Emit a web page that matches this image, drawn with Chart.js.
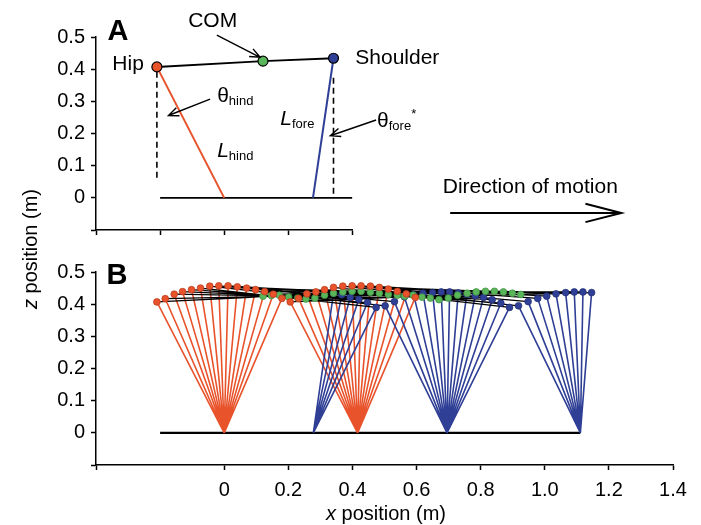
<!DOCTYPE html>
<html>
<head>
<meta charset="utf-8">
<script src="https://cdn.jsdelivr.net/npm/chart.js@4.4.0/dist/chart.umd.min.js"></script>
<style>
html, body { margin: 0; padding: 0; background: #fff; }
#wrap { position: relative; width: 701px; height: 525px; }
#wrap canvas { position: absolute; left: 0; top: 0; }
</style>
</head>
<body>
<div id="wrap">
  <canvas id="panelA" width="701" height="525"></canvas>
  <canvas id="panelB" width="701" height="525"></canvas>
</div>
<script>
const FONT = '"Liberation Sans", Arial, Helvetica, sans-serif';
const RED = '#e8532b', GREEN = '#5ab65b', BLUE = '#2f3f95';

// ---- panel B: 30 frames, hip / COM / shoulder positions (m) ----
const hipX = [-0.210, -0.184, -0.156, -0.130, -0.102, -0.074, -0.045, -0.017, 0.012, 0.041, 0.070, 0.098, 0.126, 0.153, 0.180,
  0.206, 0.232, 0.258, 0.286, 0.313, 0.341, 0.370, 0.399, 0.427, 0.456, 0.484, 0.512, 0.540, 0.568, 0.596];
const hipY = [0.407, 0.417, 0.431, 0.439, 0.445, 0.450, 0.456, 0.457, 0.457, 0.454, 0.450, 0.445, 0.439, 0.431, 0.418,
  0.407, 0.418, 0.432, 0.438, 0.445, 0.452, 0.456, 0.457, 0.457, 0.456, 0.452, 0.447, 0.440, 0.432, 0.421];
const comX = [0.121, 0.147, 0.172, 0.201, 0.229, 0.255, 0.283, 0.313, 0.341, 0.370, 0.399, 0.427, 0.456, 0.484, 0.512,
  0.540, 0.563, 0.589, 0.617, 0.643, 0.670, 0.699, 0.728, 0.758, 0.786, 0.815, 0.843, 0.871, 0.899, 0.925];
const comY = [0.425, 0.427, 0.428, 0.422, 0.419, 0.416, 0.419, 0.428, 0.434, 0.438, 0.440, 0.440, 0.437, 0.434, 0.430,
  0.428, 0.425, 0.428, 0.422, 0.419, 0.414, 0.419, 0.428, 0.434, 0.438, 0.440, 0.440, 0.438, 0.434, 0.430];
const shX = [0.341, 0.367, 0.393, 0.420, 0.447, 0.474, 0.502, 0.531, 0.562, 0.591, 0.620, 0.650, 0.677, 0.703, 0.730,
  0.757, 0.783, 0.809, 0.836, 0.863, 0.890, 0.918, 0.948, 0.978, 1.006, 1.035, 1.065, 1.092, 1.119, 1.146];
const shY = [0.434, 0.429, 0.421, 0.415, 0.405, 0.390, 0.395, 0.408, 0.423, 0.429, 0.434, 0.436, 0.438, 0.438, 0.435,
  0.431, 0.426, 0.421, 0.414, 0.403, 0.390, 0.395, 0.408, 0.418, 0.425, 0.432, 0.436, 0.438, 0.438, 0.436];

// feet (m) and number of frames spent on each foot
const hindFeet = [0, 0.416];
const hindFrames = [15, 15];
const foreFeet = [0.278, 0.695, 1.111];
const foreFrames = [6, 15, 9];
const groundB = [-0.2, 1.111];

// ---- panel A: one frame (hip, COM, shoulder) ----
const aBodyX = [-0.210, 0.121, 0.341];
const aBodyY = [0.407, 0.425, 0.434];
const aFeet = [0, 0.277];
const groundA = [-0.2, 0.4];
const aHipDash = [0.392, 0.051];
const aShoulderDash = [0.373, 0.003];

// ---- ticks ----
const xTicksA = [-0.4, -0.2, 0, 0.2, 0.4];
const xTicksB = [-0.4, 0, 0.2, 0.4, 0.6, 0.8, 1.0, 1.2, 1.4];
const xLabelsB = ['', '0', '0.2', '0.4', '0.6', '0.8', '1.0', '1.2', '1.4'];
const yTicks = [-0.1, 0, 0.1, 0.2, 0.3, 0.4, 0.5];
const yLabels = ['', '0', '0.1', '0.2', '0.3', '0.4', '0.5'];

// legs: top point -> foot, broken with a null between legs
function legs(topX, topY, feet, frames) {
  const out = [];
  let f = 0;
  feet.forEach((foot, k) => {
    for (let n = 0; n < frames[k]; n++, f++) {
      out.push({x: topX[f], y: topY[f]}, {x: foot, y: 0}, {x: foot, y: null});
    }
  });
  return out;
}

function bodies() {
  const out = [];
  hipX.forEach((hx, i) => {
    out.push({x: hx, y: hipY[i]}, {x: shX[i], y: shY[i]}, {x: shX[i], y: null});
  });
  return out;
}

const pts = (xs, ys) => xs.map((x, i) => ({x, y: ys[i]}));

function scaleOpts(min, max, ticks, labels, size, pad) {
  return {
    type: 'linear', min, max,
    afterBuildTicks: s => { s.ticks = ticks.map(v => ({value: v})); },
    afterFit: s => { if (s.isHorizontal()) s.height = size; else s.width = size; },
    grid: {drawOnChartArea: false, drawTicks: true, tickLength: 5, tickWidth: 1.5, color: '#000', tickColor: '#000'},
    border: {display: true, color: '#000', width: 1.5},
    ticks: {
      display: !!labels, color: '#000', padding: pad, autoSkip: false, maxRotation: 0,
      font: {family: FONT, size: 20},
      callback: (v, i) => labels ? labels[i] : ''
    }
  };
}

function rich(ctx, x, y, parts, size, align) {
  const fontFor = st => (st === 'i' ? 'italic ' : st === 'b' ? 'bold ' : '') +
    (st === 'sub' || st === 'sup' ? Math.round(size * 0.64) : size) + 'px ' + FONT;
  let w = 0;
  parts.forEach(([t, st]) => { ctx.font = fontFor(st); w += ctx.measureText(t).width; });
  let cx = align === 'center' ? x - w / 2 : x;
  ctx.textBaseline = 'middle';
  ctx.textAlign = 'left';
  ctx.fillStyle = '#000';
  parts.forEach(([t, st]) => {
    ctx.font = fontFor(st);
    const dy = st === 'sub' ? size * 0.28 : st === 'sup' ? -size * 0.3 : 0;
    ctx.fillText(t, cx, y + dy);
    cx += ctx.measureText(t).width;
  });
}

function arrow(ctx, x1, y1, x2, y2, len, spread, width) {
  const a = Math.atan2(y2 - y1, x2 - x1);
  ctx.beginPath();
  ctx.moveTo(x1, y1);
  ctx.lineTo(x2, y2);
  ctx.moveTo(x2 - len * Math.cos(a - spread), y2 - len * Math.sin(a - spread));
  ctx.lineTo(x2, y2);
  ctx.lineTo(x2 - len * Math.cos(a + spread), y2 - len * Math.sin(a + spread));
  ctx.lineWidth = width;
  ctx.strokeStyle = '#000';
  ctx.stroke();
}

// labels and arrows of panel A, placed in data units
const notesA = [
  {x: -0.036, y: 0.550, parts: [['COM', '']], align: 'center'},
  {x: -0.300, y: 0.416, parts: [['Hip', '']], align: 'center'},
  {x: 0.409, y: 0.435, parts: [['Shoulder', '']]},
  {x: -0.022, y: 0.317, parts: [['θ', ''], ['hind', 'sub']]},
  {x: -0.022, y: 0.146, parts: [['L', 'i'], ['hind', 'sub']]},
  {x: 0.175, y: 0.245, parts: [['L', 'i'], ['fore', 'sub']]},
  {x: 0.477, y: 0.239, parts: [['θ', ''], ['fore', 'sub'], ['*', 'sup']]},
  {x: 0.955, y: 0.034, parts: [['Direction of motion', '']], align: 'center'}
];
const arrowsA = [
  {from: [-0.023, 0.506], to: [0.112, 0.437], len: 11, spread: 0.4, w: 1.4},
  {from: [-0.044, 0.307], to: [-0.174, 0.256], len: 11, spread: 0.4, w: 1.4},
  {from: [0.474, 0.242], to: [0.331, 0.193], len: 11, spread: 0.4, w: 1.4},
  {from: [0.705, -0.047], to: [1.239, -0.047], len: 37, spread: 0.25, w: 2}
];

const notesPlugin = {
  id: 'notes',
  afterDraw(chart) {
    const ctx = chart.ctx, xs = chart.scales.x, ys = chart.scales.y;
    const o = chart.options.plugins.notes;
    ctx.save();
    (o.arrows || []).forEach(a => arrow(ctx,
      xs.getPixelForValue(a.from[0]), ys.getPixelForValue(a.from[1]),
      xs.getPixelForValue(a.to[0]), ys.getPixelForValue(a.to[1]), a.len, a.spread, a.w));
    (o.notes || []).forEach(n => rich(ctx, xs.getPixelForValue(n.x), ys.getPixelForValue(n.y), n.parts, 21, n.align));
    (o.pixelText || []).forEach(n => {
      ctx.save();
      ctx.translate(n.x, n.y);
      ctx.rotate(n.rot || 0);
      rich(ctx, 0, 0, n.parts, n.size, 'center');
      ctx.restore();
    });
    ctx.restore();
  }
};

const baseOpts = {
  responsive: false,
  animation: false,
  events: [],
  plugins: {legend: {display: false}, tooltip: {enabled: false}}
};

// ---------- panel A ----------
new Chart(document.getElementById('panelA'), {
  type: 'scatter',
  data: {
    datasets: [
      {data: pts(aBodyX, aBodyY), showLine: false, pointRadius: 5, borderWidth: 1.2,
        pointBackgroundColor: [RED, GREEN, BLUE], pointBorderColor: '#000'},
      {data: pts(aBodyX, aBodyY), showLine: true, borderColor: '#000', borderWidth: 2, pointRadius: 0},
      {data: [{x: aBodyX[2], y: aBodyY[2]}, {x: aFeet[1], y: 0}], showLine: true, borderColor: BLUE, borderWidth: 2, pointRadius: 0},
      {data: [{x: aBodyX[0], y: aBodyY[0]}, {x: aFeet[0], y: 0}], showLine: true, borderColor: RED, borderWidth: 2, pointRadius: 0},
      {data: [{x: aBodyX[0], y: aHipDash[0]}, {x: aBodyX[0], y: aHipDash[1]}, {x: aBodyX[0], y: null},
              {x: aBodyX[2], y: aShoulderDash[0]}, {x: aBodyX[2], y: aShoulderDash[1]}],
        showLine: true, borderColor: '#000', borderWidth: 1.6, borderDash: [6, 4], pointRadius: 0},
      {data: [{x: groundA[0], y: 0}, {x: groundA[1], y: 0}], showLine: true, borderColor: '#000', borderWidth: 1.6, pointRadius: 0}
    ]
  },
  options: {
    ...baseOpts,
    layout: {padding: {top: 37, left: 0, right: 348.6, bottom: 0}},
    scales: {
      x: scaleOpts(-0.4, 0.4, xTicksA, null, 295, 0),
      y: scaleOpts(-0.1, 0.5, yTicks, yLabels, 96, 6)
    },
    plugins: {
      ...baseOpts.plugins,
      notes: {
        notes: notesA,
        arrows: arrowsA,
        pixelText: [{x: 118, y: 32, parts: [['A', 'b']], size: 29}]
      }
    }
  },
  plugins: [notesPlugin]
});

// ---------- panel B ----------
new Chart(document.getElementById('panelB'), {
  type: 'scatter',
  data: {
    datasets: [
      {data: pts(hipX, hipY), showLine: false, pointRadius: 3.4, borderWidth: 0.7,
        pointBackgroundColor: RED, pointBorderColor: '#b83a1c'},
      {data: pts(comX, comY), showLine: false, pointRadius: 3.4, borderWidth: 0.7,
        pointBackgroundColor: GREEN, pointBorderColor: '#3f8f3f'},
      {data: pts(shX, shY), showLine: false, pointRadius: 3.4, borderWidth: 0.7,
        pointBackgroundColor: BLUE, pointBorderColor: '#1f2c70'},
      {data: bodies(), showLine: true, borderColor: '#000', borderWidth: 1.3, pointRadius: 0},
      {data: legs(shX, shY, foreFeet, foreFrames), showLine: true, borderColor: BLUE, borderWidth: 1.6, pointRadius: 0},
      {data: legs(hipX, hipY, hindFeet, hindFrames), showLine: true, borderColor: RED, borderWidth: 1.6, pointRadius: 0},
      {data: [{x: groundB[0], y: 0}, {x: groundB[1], y: 0}], showLine: true, borderColor: '#000', borderWidth: 2.2, pointRadius: 0}
    ]
  },
  options: {
    ...baseOpts,
    layout: {padding: {top: 272, left: 0, right: 28, bottom: 0}},
    scales: {
      x: scaleOpts(-0.4, 1.4, xTicksB, xLabelsB, 60, 8),
      y: scaleOpts(-0.1, 0.5, yTicks, yLabels, 96, 6)
    },
    plugins: {
      ...baseOpts.plugins,
      notes: {
        pixelText: [
          {x: 117, y: 276, parts: [['B', 'b']], size: 29},
          {x: 386, y: 514, parts: [['x', 'i'], [' position (m)', '']], size: 20},
          {x: 31, y: 249, rot: -Math.PI / 2, parts: [['z', 'i'], [' position (m)', '']], size: 20}
        ]
      }
    }
  },
  plugins: [notesPlugin]
});
</script>
</body>
</html>
